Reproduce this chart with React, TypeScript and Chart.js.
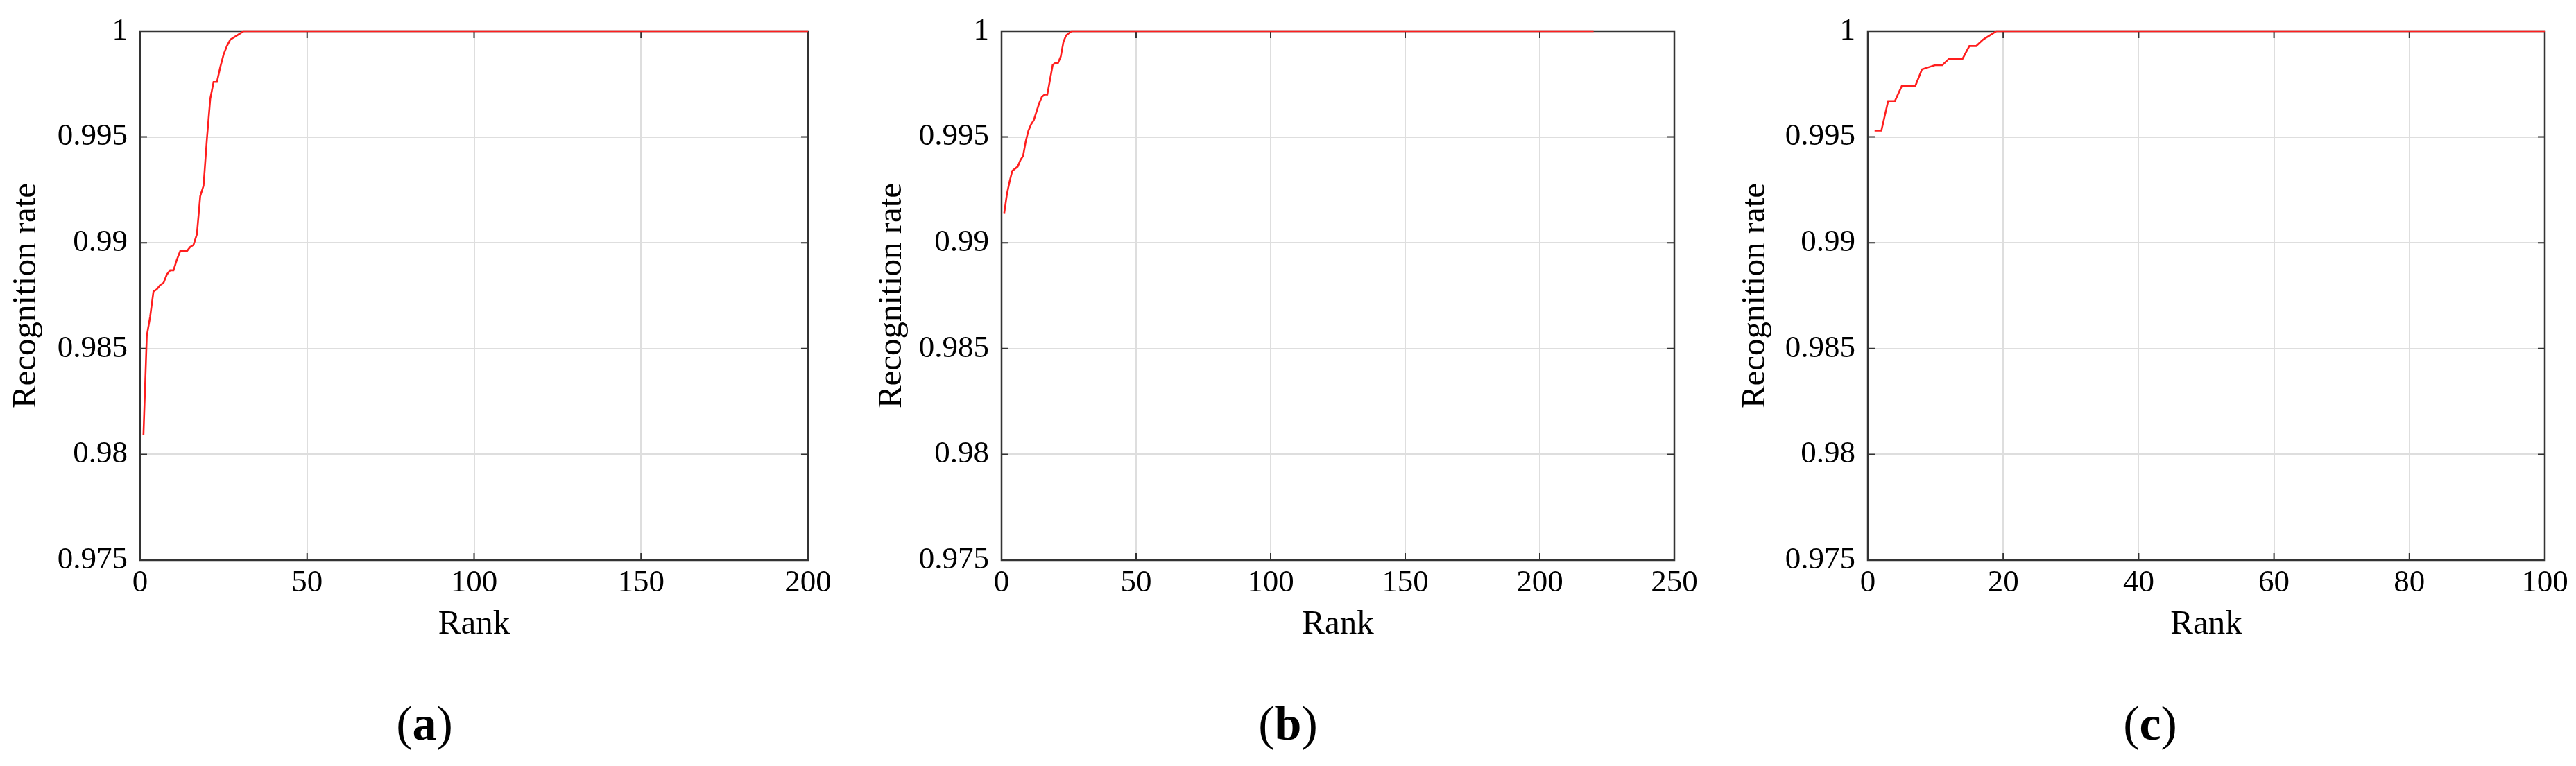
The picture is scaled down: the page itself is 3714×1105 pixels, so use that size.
import React, { useEffect, useRef } from 'react';
import { Chart, registerables } from 'chart.js';

Chart.register(...registerables);

// ---- Data ----
const ranksA = [1, 2, 3, 4, 5, 6, 7, 8, 9, 10, 11, 12, 13, 14, 15, 16, 17, 18, 19, 20, 21, 22, 23, 24, 25, 26, 27, 28, 29, 30, 31, 200];
const ratesA = [0.9809, 0.9856, 0.9865, 0.9877, 0.9878, 0.988, 0.9881, 0.9885, 0.9887, 0.9887, 0.9892, 0.9896, 0.9896, 0.9896, 0.9898, 0.9899, 0.9904, 0.9922, 0.9927, 0.9949, 0.9968, 0.9976, 0.9976, 0.9983, 0.9989, 0.9993, 0.9996, 0.9997, 0.9998, 0.9999, 1.0, 1.0];

const ranksB = [1, 2, 3, 4, 5, 6, 7, 8, 9, 10, 11, 12, 13, 14, 15, 16, 17, 18, 19, 20, 21, 22, 23, 24, 25, 26, 220];
const ratesB = [0.9914, 0.9923, 0.9929, 0.9934, 0.9935, 0.9936, 0.9939, 0.9941, 0.9948, 0.9953, 0.9956, 0.9958, 0.9962, 0.9966, 0.9969, 0.997, 0.997, 0.9977, 0.9984, 0.9985, 0.9985, 0.9988, 0.9995, 0.9998, 0.9999, 1.0, 1.0];

const ranksC = [1, 2, 3, 4, 5, 6, 7, 8, 9, 10, 11, 12, 13, 14, 15, 16, 17, 18, 19, 100];
const ratesC = [0.9953, 0.9953, 0.9967, 0.9967, 0.9974, 0.9974, 0.9974, 0.9982, 0.9983, 0.9984, 0.9984, 0.9987, 0.9987, 0.9987, 0.9993, 0.9993, 0.9996, 0.9998, 1.0, 1.0];

const yTickValues = [0.975, 0.98, 0.985, 0.99, 0.995, 1];
const xTicksA = [0, 50, 100, 150, 200];
const xTicksB = [0, 50, 100, 150, 200, 250];
const xTicksC = [0, 20, 40, 60, 80, 100];
const captionLetters = ['a', 'b', 'c'];
const yAxisTitle = 'Recognition rate';
const xAxisTitle = 'Rank';

// ---- Layout / style ----
const FONT = "'Liberation Serif', 'Times New Roman', serif";
const CANVAS_H = 960;
const Y_AXIS_W = 202;
const X_AXIS_H = 152;
const PAD_TOP = 43;
const PAD_RIGHT = 40;

type PanelCfg = {
  ranks: number[];
  rates: number[];
  xTicks: number[];
  letter: string;
  canvasLeft: number;
  plotWidth: number;
  yTitlePad: number;
  captionX: number;
};

const panels: PanelCfg[] = [
  { ranks: ranksA, rates: ratesA, xTicks: xTicksA, letter: captionLetters[0], canvasLeft: 0, plotWidth: 963, yTitlePad: 9, captionX: 612 },
  { ranks: ranksB, rates: ratesB, xTicks: xTicksB, letter: captionLetters[1], canvasLeft: 1242, plotWidth: 970, yTitlePad: 15, captionX: 1857 },
  { ranks: ranksC, rates: ratesC, xTicks: xTicksC, letter: captionLetters[2], canvasLeft: 2491, plotWidth: 976, yTitlePad: 11, captionX: 3100 },
];

const framePlugin = {
  id: 'matlabFrame',
  beforeDatasetsDraw(chart: any) {
    const { ctx, chartArea } = chart;
    const { left, right, top, bottom } = chartArea;
    const xs = chart.scales.x;
    const ys = chart.scales.y;
    const len = 10;
    ctx.save();
    ctx.strokeStyle = '#333333';
    ctx.lineWidth = 2;
    ctx.beginPath();
    xs.ticks.forEach((t: any) => {
      const px = xs.getPixelForValue(t.value);
      ctx.moveTo(px, bottom);
      ctx.lineTo(px, bottom - len);
      ctx.moveTo(px, top);
      ctx.lineTo(px, top + len);
    });
    ys.ticks.forEach((t: any) => {
      const py = ys.getPixelForValue(t.value);
      ctx.moveTo(left, py);
      ctx.lineTo(left + len, py);
      ctx.moveTo(right, py);
      ctx.lineTo(right - len, py);
    });
    ctx.stroke();
    ctx.lineWidth = 2.5;
    ctx.strokeRect(left, top, right - left, bottom - top);
    ctx.restore();
  },
};

function Panel({ cfg }: { cfg: PanelCfg }) {
  const ref = useRef<HTMLCanvasElement>(null);
  const width = Y_AXIS_W + cfg.plotWidth + PAD_RIGHT;

  useEffect(() => {
    if (!ref.current) return;
    const xMin = cfg.xTicks[0];
    const xMax = cfg.xTicks[cfg.xTicks.length - 1];
    const chart = new Chart(ref.current, {
      type: 'line',
      data: {
        datasets: [
          {
            data: cfg.ranks.map((r, i) => ({ x: r, y: cfg.rates[i] })),
            borderColor: 'rgb(255,30,30)',
            borderWidth: 2.6,
            pointRadius: 0,
            tension: 0,
            fill: false,
            clip: false as any,
          },
        ],
      },
      options: {
        responsive: false,
        animation: false,
        devicePixelRatio: 1,
        layout: { padding: { top: PAD_TOP, right: PAD_RIGHT, left: 0, bottom: 0 } },
        plugins: { legend: { display: false }, tooltip: { enabled: false } },
        scales: {
          x: {
            type: 'linear',
            min: xMin,
            max: xMax,
            afterBuildTicks: (s: any) => {
              s.ticks = cfg.xTicks.map((v) => ({ value: v }));
            },
            afterFit: (s: any) => {
              s.height = X_AXIS_H;
            },
            grid: { color: '#dedede', lineWidth: 2, drawTicks: false },
            border: { display: false },
            ticks: {
              padding: 6,
              color: '#000',
              font: { family: FONT, size: 45 },
              maxRotation: 0,
              autoSkip: false,
              callback: (v: any) => String(v),
            },
            title: {
              display: true,
              text: xAxisTitle,
              color: '#000',
              font: { family: FONT, size: 49 },
              padding: { top: 0, bottom: 29 },
            },
          },
          y: {
            type: 'linear',
            min: yTickValues[0],
            max: yTickValues[yTickValues.length - 1],
            afterBuildTicks: (s: any) => {
              s.ticks = yTickValues.map((v) => ({ value: v }));
            },
            afterFit: (s: any) => {
              s.width = Y_AXIS_W;
            },
            grid: { color: '#dedede', lineWidth: 2, drawTicks: false },
            border: { display: false },
            ticks: {
              padding: 18,
              color: '#000',
              font: { family: FONT, size: 45 },
              autoSkip: false,
              callback: (v: any) => String(Number(Number(v).toFixed(3))),
            },
            title: {
              display: true,
              text: yAxisTitle,
              color: '#000',
              font: { family: FONT, size: 49 },
              padding: { top: cfg.yTitlePad, bottom: 0 },
            },
          },
        },
      },
      plugins: [framePlugin],
    });
    return () => chart.destroy();
  }, [cfg]);

  return (
    <canvas
      ref={ref}
      width={width}
      height={CANVAS_H}
      style={{ position: 'absolute', left: cfg.canvasLeft, top: 0, width, height: CANVAS_H }}
    />
  );
}

export default function App() {
  return (
    <div
      style={{
        position: 'absolute',
        left: 0,
        top: 0,
        width: 3714,
        height: 1105,
        background: '#ffffff',
        overflow: 'hidden',
      }}
    >
      {panels.map((p) => (
        <React.Fragment key={p.letter}>
          <Panel cfg={p} />
          <div
            style={{
              position: 'absolute',
              left: p.captionX - 150,
              width: 300,
              top: 1009,
              textAlign: 'center',
              fontFamily: FONT,
              fontSize: 70,
              lineHeight: '70px',
              color: '#000',
            }}
          >
            (<b>{p.letter}</b>)
          </div>
        </React.Fragment>
      ))}
    </div>
  );
}
